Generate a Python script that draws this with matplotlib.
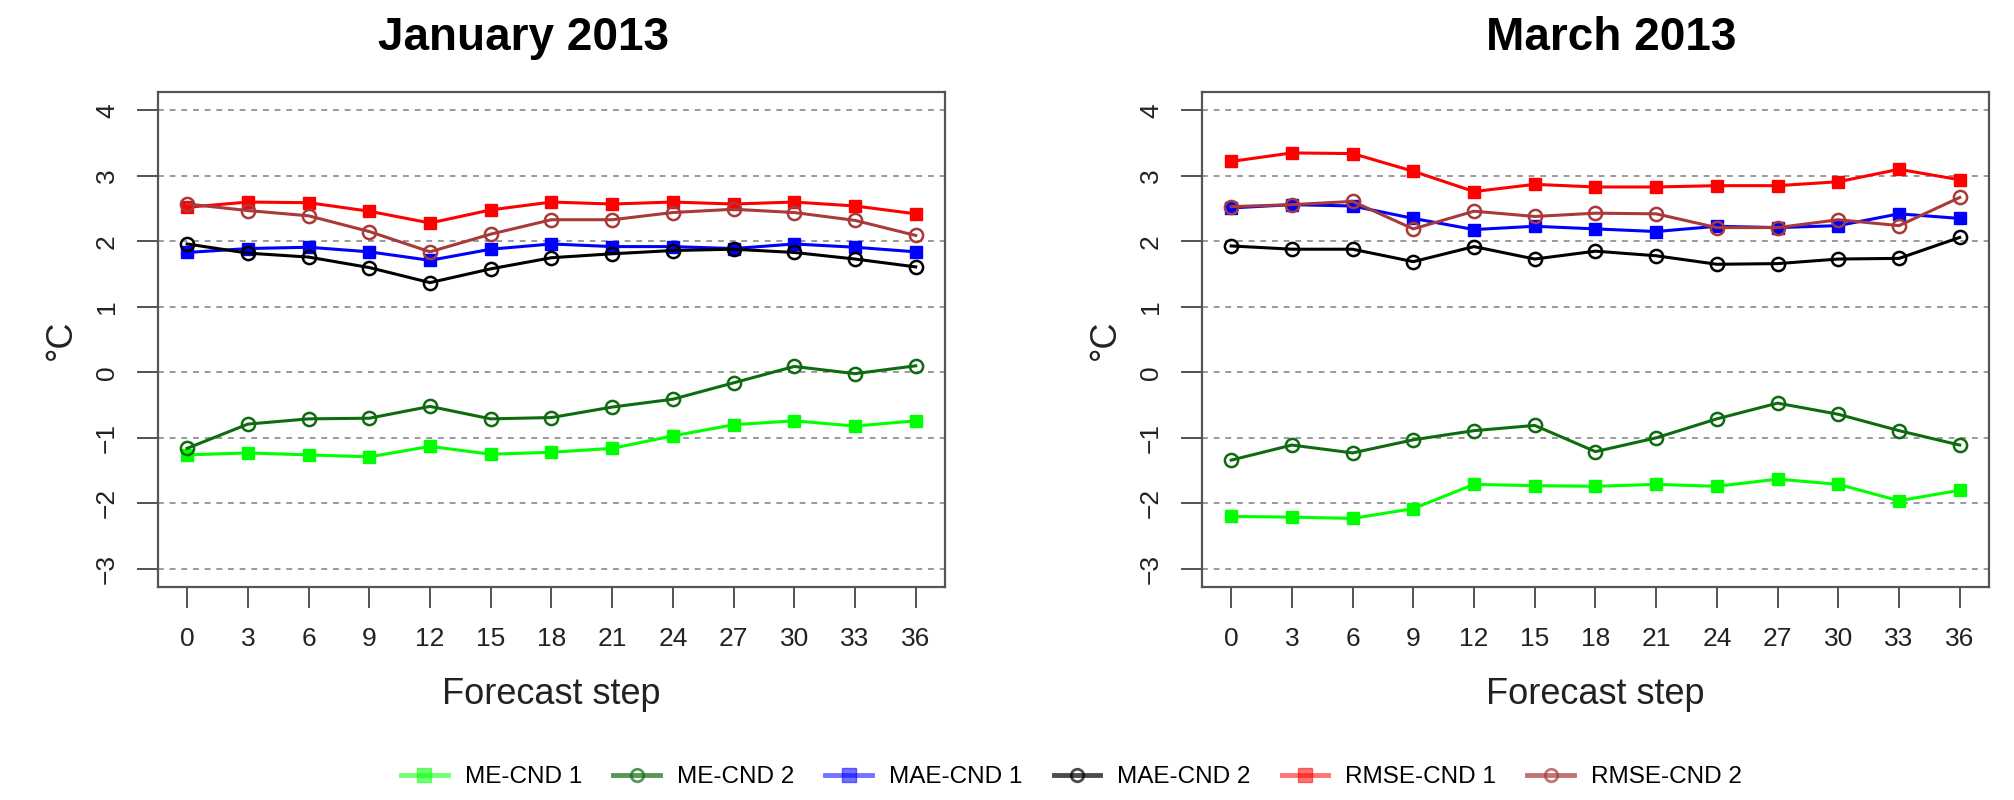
import matplotlib
matplotlib.use("Agg")
import matplotlib.pyplot as plt
from matplotlib.lines import Line2D

plt.rcParams["font.family"] = ["Liberation Sans", "DejaVu Sans"]

steps = [0, 3, 6, 9, 12, 15, 18, 21, 24, 27, 30, 33, 36]
months = ["January 2013", "March 2013"]
series_names = ["ME-CND 1", "ME-CND 2", "MAE-CND 1", "MAE-CND 2", "RMSE-CND 1", "RMSE-CND 2"]

# January 2013
jan_me1 = [-1.26, -1.23, -1.26, -1.29, -1.13, -1.25, -1.22, -1.16, -0.97, -0.80, -0.74, -0.82, -0.74]
jan_me2 = [-1.16, -0.79, -0.71, -0.70, -0.52, -0.71, -0.69, -0.53, -0.41, -0.16, 0.09, -0.02, 0.10]
jan_mae1 = [1.83, 1.89, 1.91, 1.84, 1.71, 1.88, 1.96, 1.92, 1.92, 1.89, 1.96, 1.91, 1.84]
jan_mae2 = [1.96, 1.82, 1.76, 1.60, 1.37, 1.58, 1.75, 1.81, 1.86, 1.88, 1.83, 1.73, 1.61]
jan_rmse1 = [2.52, 2.60, 2.59, 2.46, 2.28, 2.48, 2.60, 2.57, 2.60, 2.57, 2.60, 2.54, 2.42]
jan_rmse2 = [2.57, 2.47, 2.39, 2.15, 1.84, 2.11, 2.33, 2.33, 2.44, 2.49, 2.44, 2.32, 2.09]

# March 2013
mar_me1 = [-2.20, -2.21, -2.23, -2.08, -1.71, -1.73, -1.74, -1.71, -1.74, -1.63, -1.71, -1.96, -1.80]
mar_me2 = [-1.34, -1.11, -1.23, -1.03, -0.89, -0.81, -1.21, -1.00, -0.71, -0.47, -0.64, -0.89, -1.11]
mar_mae1 = [2.51, 2.56, 2.54, 2.35, 2.18, 2.23, 2.19, 2.15, 2.23, 2.21, 2.24, 2.42, 2.35]
mar_mae2 = [1.93, 1.88, 1.88, 1.69, 1.92, 1.73, 1.85, 1.78, 1.65, 1.66, 1.73, 1.74, 2.06]
mar_rmse1 = [3.22, 3.35, 3.34, 3.07, 2.76, 2.87, 2.83, 2.83, 2.85, 2.85, 2.91, 3.10, 2.94]
mar_rmse2 = [2.53, 2.56, 2.61, 2.19, 2.46, 2.38, 2.43, 2.42, 2.21, 2.21, 2.33, 2.24, 2.67]

colors = ["#00ff00", "#0f6b0f", "#0000ff", "#000000", "#ff0000", "#a83a3a"]
markers = ["s", "o", "s", "o", "s", "o"]

panels = [
    [jan_me1, jan_me2, jan_mae1, jan_mae2, jan_rmse1, jan_rmse2],
    [mar_me1, mar_me2, mar_mae1, mar_mae2, mar_rmse1, mar_rmse2],
]

fig = plt.figure(figsize=(20.14, 8), dpi=100)
ax_lefts = [158 / 2014, 1202 / 2014]
title_x = [523 / 2014, 1611 / 2014]

for i, data in enumerate(panels):
    ax = fig.add_axes([ax_lefts[i], 0.266, 0.3907, 0.619])
    for y in range(-3, 5):
        ax.axhline(y, color="#9a9a9a", lw=1.4, ls=(0, (3, 3)), zorder=0)
    for vals, c, m in zip(data, colors, markers):
        if m == "s":
            ax.plot(steps, vals, color=c, lw=2.2, marker="s", ms=8, mec=c, mfc=c)
        else:
            ax.plot(steps, vals, color=c, lw=2.2, marker="o", ms=9.5, mec=c,
                    mfc="none", mew=1.8)
    ax.set_xlim(-1.44, 37.44)
    ax.set_ylim(-3.28, 4.28)
    ax.set_xticks(steps)
    ax.set_yticks(range(-3, 5))
    ax.tick_params(axis="both", length=15, width=1.3, color="#444444",
                   labelsize=19, labelcolor="#222222")
    ax.tick_params(axis="x", pad=14)
    ax.tick_params(axis="y", pad=13, labelrotation=90)
    for lbl in ax.get_yticklabels():
        lbl.set_va("center")
    for sp in ax.spines.values():
        sp.set_color("#555555")
        sp.set_linewidth(1.6)
    ax.set_xlabel("Forecast step", fontsize=26, color="#222222")
    ax.xaxis.set_label_coords(0.5, -0.182)
    ax.set_ylabel("°C", fontsize=26, color="#222222")
    ax.yaxis.set_label_coords(-0.101, 0.5)
    fig.text(title_x[i], 1 - 50 / 800, months[i], ha="center", va="baseline",
             fontsize=33, fontweight="bold")

handles = []
for c, m in zip(colors, markers):
    if m == "s":
        h = Line2D([], [], color=c, alpha=0.55, lw=3.5, marker="s", ms=10,
                   mec=c, mfc=c)
    else:
        h = Line2D([], [], color=c, alpha=0.7, lw=3.5, marker="o", ms=9,
                   mec=c, mfc="none", mew=2)
    handles.append(h)

fig.legend(handles, series_names, loc="center", ncol=6,
           bbox_to_anchor=(0.532, 1 - 777 / 800), frameon=False, fontsize=17.5,
           handlelength=1.9, handletextpad=0.7, columnspacing=1.3)

fig.savefig("out.png", dpi=100)
